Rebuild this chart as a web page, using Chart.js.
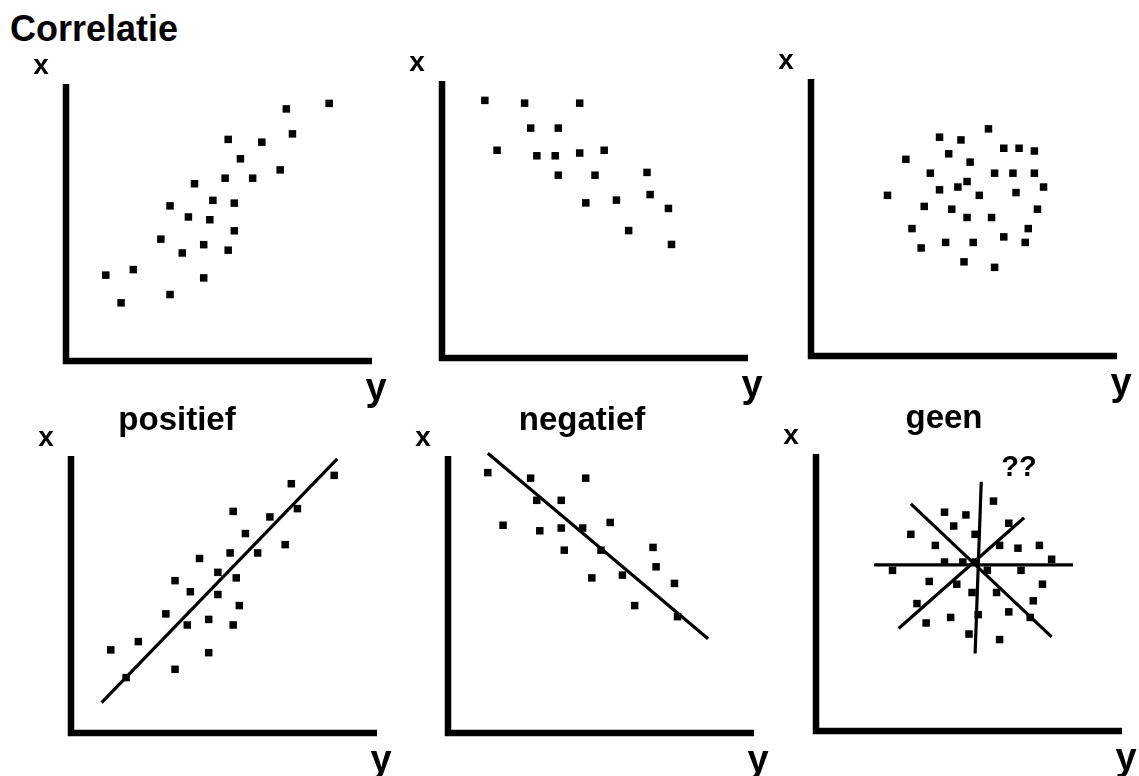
<!DOCTYPE html>
<html lang="nl">
<head>
<meta charset="UTF-8">
<title>Correlatie</title>
<script src="https://cdn.jsdelivr.net/npm/chart.js"></script>
<style>
  body {
    margin: 0;
    width: 1139px;
    height: 776px;
    overflow: hidden;
    position: relative;
    background: #fff;
    font-family: "Liberation Sans", Arial, sans-serif;
  }
  h1 {
    position: absolute;
    left: 10px;
    top: 11px;
    margin: 0;
    font-size: 36px;
    line-height: 36px;
    font-weight: bold;
    color: #000;
  }
  canvas { position: absolute; }
</style>
</head>
<body>
<h1>Correlatie</h1>
<canvas id="c1" width="391" height="387"></canvas>
<canvas id="c2" width="391" height="387"></canvas>
<canvas id="c3" width="391" height="387"></canvas>
<canvas id="c4" width="391" height="387"></canvas>
<canvas id="c5" width="391" height="387"></canvas>
<canvas id="c6" width="391" height="387"></canvas>

<script>
// scatter points, [x, y] on a 0-100 scale for each plot
const topPositief = [[86,93],[72,91],[74,82],[53,80],[64,79],[57,73],[70,69],[52,66],[61,66],[42,64],
  [48,58],[55,57],[34,56],[40,52],[47,51],[55,47],[31,44],[45,42],[53,40],[38,39],
  [22,33],[13,31],[45,30],[34,24],[18,21]];
const topNegatief = [[14,93],[27,92],[45,92],[29,83],[38,83],[18,75],[31,73],[37,73],[45,74],[53,75],
  [38,66],[50,66],[67,67],[68,59],[47,56],[57,57],[74,54],[61,46],[75,41]];
const topGeen = [[58,82],[42,79],[49,78],[63,75],[68,75],[73,74],[31,71],[45,73],[52,70],[39,66],
  [60,66],[66,66],[73,66],[51,63],[42,60],[48,61],[55,58],[67,59],[76,61],[25,58],
  [37,54],[46,53],[74,53],[51,50],[59,50],[33,46],[71,46],[63,43],[53,41],[44,41],
  [70,41],[36,39],[50,34],[60,32]];

const bottomPositief = [[86,93],[72,90],[74,81],[53,80],[65,78],[57,72],[70,68],[52,65],[61,65],[42,63],
  [48,58],[54,56],[34,55],[39,51],[48,50],[55,46],[31,43],[45,41],[53,39],[38,39],
  [22,33],[13,30],[45,29],[34,23],[18,20]];
const bottomNegatief = [[13,94],[27,92],[45,92],[29,84],[37,84],[18,75],[30,73],[37,74],[44,74],[53,76],
  [38,66],[50,66],[67,67],[68,60],[47,56],[57,57],[74,54],[61,46],[75,42]];
const bottomGeen = [[58,83],[42,79],[49,78],[63,75],[45,74],[31,71],[52,71],[39,67],[60,67],[66,66],
  [73,67],[77,62],[42,61],[48,61],[25,58],[56,58],[67,58],[37,54],[46,53],[74,53],
  [51,50],[59,50],[33,46],[71,47],[63,43],[44,41],[53,42],[70,41],[36,39],[50,35],
  [60,33],[52,61]];

// trend lines (start and end point)
const lijnPositief = [[10,11],[87,99]];
const lijnNegatief = [[13,101],[85,34]];
const lijnenGeen = [
  [[54,90],[52,28]],
  [[19,60],[84,60]],
  [[31,82],[77,34]],
  [[27,37],[68,77]]
];

const titels = ['', '', '', 'positief', 'negatief', 'geen'];

const PAD = { left: 50, top: 60, right: 35, bottom: 50 };
const AXIS_W = 306, AXIS_H = 277;
const FONT = '"Liberation Sans", Arial, sans-serif';

const panels = [
  { id: 'c1', ox: 66,  oy: 361, points: topPositief,    lines: [] },
  { id: 'c2', ox: 442, oy: 358, points: topNegatief,    lines: [] },
  { id: 'c3', ox: 811, oy: 356, points: topGeen,        lines: [] },
  { id: 'c4', ox: 71,  oy: 733, points: bottomPositief, lines: [lijnPositief], titleDx: 106 },
  { id: 'c5', ox: 448, oy: 733, points: bottomNegatief, lines: [lijnNegatief], titleDx: 134 },
  { id: 'c6', ox: 816, oy: 731, points: bottomGeen,     lines: lijnenGeen,     titleDx: 128,
    note: '??', noteDx: 203, noteDy: 22 }
];

// draws the L-shaped axes, the x / y letters, titles and notes
const assenPlugin = {
  id: 'assen',
  beforeDatasetsDraw(chart, args, opts) {
    const { ctx, chartArea: a } = chart;
    ctx.save();
    ctx.strokeStyle = '#000';
    ctx.lineWidth = 6.5;
    ctx.lineJoin = 'miter';
    ctx.beginPath();
    ctx.moveTo(a.left, a.top);
    ctx.lineTo(a.left, a.bottom);
    ctx.lineTo(a.right, a.bottom);
    ctx.stroke();

    ctx.fillStyle = '#000';
    ctx.textAlign = 'center';
    ctx.textBaseline = 'alphabetic';
    ctx.font = 'bold 28px ' + FONT;
    ctx.fillText('x', a.left - 25, a.top - 10);
    ctx.font = 'bold 38px ' + FONT;
    ctx.fillText('y', a.right + 4, a.bottom + 39);

    if (opts.title) {
      ctx.font = 'bold 33px ' + FONT;
      ctx.fillText(opts.title, a.left + opts.titleDx, a.top - 26);
    }
    if (opts.note) {
      ctx.font = 'bold 29px ' + FONT;
      ctx.fillText(opts.note, a.left + opts.noteDx, a.top + opts.noteDy);
    }
    ctx.restore();
  }
};

const toXY = pts => pts.map(([x, y]) => ({ x, y }));

panels.forEach((p, i) => {
  const el = document.getElementById(p.id);
  el.style.left = (p.ox - PAD.left) + 'px';
  el.style.top = (p.oy - AXIS_H - PAD.top) + 'px';

  const datasets = [{
    data: toXY(p.points),
    pointStyle: 'rect',
    pointRadius: 5.3,
    backgroundColor: '#000',
    borderWidth: 0
  }];
  p.lines.forEach(l => {
    datasets.push({
      data: toXY(l),
      showLine: true,
      pointRadius: 0,
      borderColor: '#000',
      borderWidth: 3.2,
      fill: false,
      clip: false
    });
  });

  new Chart(el, {
    type: 'scatter',
    data: { datasets },
    options: {
      responsive: false,
      animation: false,
      events: [],
      layout: { padding: PAD },
      scales: {
        x: { display: false, min: 0, max: 100 },
        y: { display: false, min: 0, max: 100 }
      },
      plugins: {
        legend: { display: false },
        tooltip: { enabled: false },
        assen: {
          title: titels[i],
          titleDx: p.titleDx,
          note: p.note,
          noteDx: p.noteDx,
          noteDy: p.noteDy
        }
      }
    },
    plugins: [assenPlugin]
  });
});
</script>
</body>
</html>
